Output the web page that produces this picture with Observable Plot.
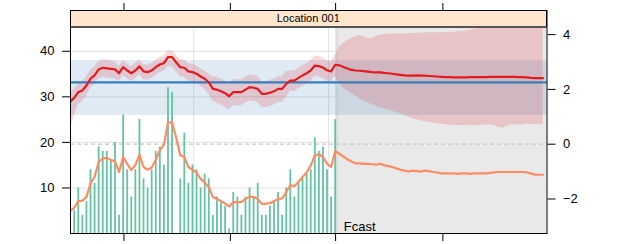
<!DOCTYPE html>
<html><head><meta charset="utf-8">
<script src="https://cdn.jsdelivr.net/npm/d3@7"></script>
<script src="https://cdn.jsdelivr.net/npm/@observablehq/plot@0.6"></script>
<style>
body{margin:0;background:#fff;}
#wrap{position:relative;width:625px;height:244px;font-family:"Liberation Sans",Arial,Helvetica,sans-serif;}
#wrap svg{position:absolute;left:0;top:0;}
#strip{position:absolute;left:70px;top:10px;width:476.5px;height:18px;box-sizing:border-box;background:#ffe5cc;border:1px solid #000;border-bottom:2px solid #555;font-size:11px;text-align:center;line-height:15px;color:#000;z-index:5;}
</style></head><body><div id="wrap"></div>
<script>
// ---- data ----
const panelTitle = "Location 001";
const fcastLabel = "Fcast";
const leftTicks = [10, 20, 30, 40];
const rightTicks = [-2, 0, 2, 4];
const xTicks = [12.2, 38.3, 64.1, 90.4];
const vGrid = [29.3, 62.4, 95.5];
const forecastStart = 64.4;

// daily counts (days 0..64)
const counts = [5,10,4,7,14,11,19,18,18,16, 20,4,26,14,8,14,25,12,10,14,
  18,19,15,32,31,0,12,22,11,15, 14,10,13,12,4,8,7,6,1,9,
  8,4,8,10,8,11,4,4,6,7, 9,4,10,14,8,11,12,13,14,21,
  18,19,14,8,25];

// line days -1..115
const lineDays = d3.range(-1, 116);
const orange = [5.0,5.6,7.1,7.2,8.0,11.0,12.4,15.7,16.5,16.6,
  16.1,15.9,13.5,16.8,15.3,13.9,15.0,17.3,14.6,14.0,
  14.5,16.2,18.3,19.4,24.4,24.4,21.0,17.2,16.8,14.6,
  14.0,13.3,12.0,11.2,10.2,8.0,7.6,7.1,6.6,5.9,
  6.9,6.9,6.9,7.6,8.1,8.0,7.6,6.5,6.5,6.7,
  7.1,7.6,7.7,9.1,10.6,10.4,11.3,12.4,13.4,14.9,
  17.1,17.4,16.8,15.3,14.6,18.1,17.5,16.9,16.3,15.8,
  15.4,15.4,15.3,15.3,15.2,15.1,15.3,15.0,14.8,14.6,
  14.3,14.0,13.8,13.6,13.8,13.7,13.6,13.8,13.7,13.5,
  13.4,13.2,13.2,13.2,13.2,13.1,13.2,13.2,13.1,13.2,
  13.2,13.2,13.2,13.3,13.4,13.5,13.5,13.5,13.5,13.5,
  13.5,13.5,13.4,13.2,12.9,12.9,12.9];
const red = [1.55,1.69,1.90,1.96,2.14,2.39,2.51,2.73,2.79,2.77,
  2.75,2.73,2.59,2.81,2.69,2.59,2.69,2.84,2.66,2.63,
  2.69,2.81,2.91,2.96,3.18,3.18,2.99,2.81,2.79,2.66,
  2.63,2.57,2.47,2.39,2.26,2.02,1.99,1.93,1.86,1.75,
  1.90,1.90,1.90,1.99,2.08,2.06,2.02,1.84,1.84,1.88,
  1.93,2.02,2.02,2.20,2.32,2.32,2.42,2.51,2.59,2.69,
  2.87,2.85,2.80,2.70,2.66,2.90,2.88,2.82,2.76,2.71,
  2.69,2.68,2.67,2.65,2.63,2.62,2.62,2.60,2.59,2.57,
  2.55,2.53,2.51,2.50,2.50,2.51,2.50,2.50,2.49,2.48,
  2.47,2.46,2.45,2.45,2.44,2.44,2.44,2.44,2.45,2.45,
  2.45,2.45,2.45,2.46,2.46,2.46,2.46,2.46,2.46,2.46,
  2.45,2.45,2.44,2.42,2.41,2.41,2.41];
const bandHi = [1.90,2.00,2.20,2.30,2.45,2.69,2.81,3.03,3.09,3.07,
  3.05,3.03,2.84,3.06,2.94,2.84,2.94,3.09,2.91,2.88,
  2.94,3.06,3.16,3.21,3.40,3.40,3.27,3.09,3.07,2.94,
  2.91,2.85,2.75,2.67,2.56,2.45,2.44,2.38,2.31,2.20,
  2.35,2.35,2.35,2.44,2.53,2.51,2.47,2.29,2.29,2.33,
  2.38,2.47,2.47,2.65,2.67,2.67,2.77,2.86,2.94,3.04,
  3.22,3.20,3.15,3.05,3.01,3.25,3.55,3.68,3.78,3.86,
  3.93,3.97,3.92,3.86,3.86,3.93,3.99,4.00,4.01,4.02,
  4.03,4.03,4.03,4.03,4.04,4.05,4.06,4.07,4.07,4.07,
  4.07,4.07,4.08,4.08,4.09,4.10,4.11,4.13,4.16,4.19,
  4.22,4.26,4.30,4.33,4.35,4.37,4.40,4.42,4.44,4.46,
  4.48,4.50,4.52,4.54,4.56,4.58,4.60];
const bandLo = [0.55,1.00,1.45,1.55,1.75,2.04,2.16,2.38,2.44,2.42,
  2.40,2.38,2.29,2.51,2.39,2.29,2.39,2.54,2.36,2.33,
  2.39,2.51,2.61,2.66,2.83,2.83,2.64,2.46,2.44,2.31,
  2.28,2.22,2.12,2.00,1.82,1.58,1.49,1.43,1.36,1.25,
  1.40,1.40,1.40,1.49,1.58,1.56,1.52,1.34,1.34,1.38,
  1.43,1.52,1.52,1.70,1.92,1.92,2.02,2.11,2.19,2.29,
  2.47,2.45,2.40,2.30,2.26,2.50,2.20,2.05,1.95,1.85,
  1.76,1.66,1.58,1.51,1.45,1.39,1.33,1.29,1.24,1.20,
  1.16,1.12,1.05,0.98,0.93,0.89,0.86,0.82,0.79,0.77,
  0.75,0.73,0.71,0.70,0.69,0.68,0.68,0.67,0.69,0.68,
  0.67,0.69,0.70,0.71,0.68,0.62,0.58,0.64,0.70,0.71,
  0.70,0.72,0.74,0.73,0.72,0.71,0.70];
const blueMean = 2.26;
const blueLo = 1.05;
const blueHi = 3.05;

// ---- tables ----
const barTable = counts.map((c, i) => ({day: i, count: c}));
const lineTable = lineDays.map((d, i) => ({day: d, orange: orange[i], red: red[i], lo: bandLo[i], hi: bandHi[i]}));

const xDomain = [-0.907, 115.94];
const leftDomain = [0, 48.95];
const rightDomain = [-3.26, 4.88];
const common = {
  width: 625, height: 244,
  marginLeft: 70, marginRight: 78.5, marginTop: 10, marginBottom: 11,
  style: {background: "transparent", font: "13px 'Liberation Sans', Arial, sans-serif", overflow: "visible"}
};

const wrap = document.getElementById("wrap");

// layer 1: background, grid, forecast shading, axes (left scale)
wrap.appendChild(Plot.plot({
  ...common,
  x: {domain: xDomain},
  y: {domain: leftDomain},
  marks: [
    Plot.gridY(leftTicks, {stroke: "#e2e2e2", strokeOpacity: 1}),
    Plot.gridX(vGrid, {stroke: "#e2e2e2", strokeOpacity: 1}),
    Plot.rect([{x1: forecastStart, x2: xDomain[1]}], {x1: "x1", x2: "x2", fill: "#e9e9e9"}),
    Plot.ruleX([forecastStart], {stroke: "#dfdfdf", strokeWidth: 3}),
    Plot.axisY({ticks: leftTicks, tickSize: 8, tickPadding: 8, label: null}),
    Plot.axisX({anchor: "top", ticks: xTicks, tickSize: 8, tickFormat: () => "", label: null}),
    Plot.axisX({anchor: "bottom", ticks: xTicks, tickSize: 8, tickFormat: () => "", label: null})
  ]
}));

// layer 2: bands, reference lines, red line (right scale)
wrap.appendChild(Plot.plot({
  ...common,
  x: {domain: xDomain, axis: null},
  y: {domain: rightDomain},
  marks: [
    Plot.rect([{lo: blueLo, hi: blueHi}], {y1: "lo", y2: "hi", fill: "#377EB8", fillOpacity: 0.16}),
    Plot.areaY(lineTable, {x: "day", y1: "lo", y2: "hi", fill: "#E41A1C", fillOpacity: 0.17, clip: true}),
    Plot.ruleY([0], {stroke: "#c8c8c8", strokeDasharray: "4,3", strokeWidth: 1.3}),
    Plot.ruleY([blueMean], {stroke: "#377EB8", strokeWidth: 2.2}),
    Plot.lineY(lineTable, {x: "day", y: "red", stroke: "#E41A1C", strokeWidth: 2.2, clip: true}),
    Plot.axisY({anchor: "right", ticks: rightTicks, tickSize: 8, tickPadding: 8, label: null})
  ]
}));

// layer 3: bars, orange line, label, frame (left scale)
wrap.appendChild(Plot.plot({
  ...common,
  x: {domain: xDomain, axis: null},
  y: {domain: leftDomain, axis: null},
  marks: [
    Plot.ruleX(barTable, {x: "day", y1: () => 0, y2: "count", stroke: "#66C2A5", strokeWidth: 1.8}),
    Plot.lineY(lineTable, {x: "day", y: "orange", stroke: "#FC8D62", strokeWidth: 2.2, clip: true}),
    Plot.text([fcastLabel], {x: () => forecastStart, y: () => 0, text: d => d, textAnchor: "start", lineAnchor: "bottom", dx: 7, dy: -3, fontSize: 13, fill: "#000"}),
    Plot.frame({stroke: "#000"})
  ]
}));

const strip = document.createElement("div");
strip.id = "strip";
strip.textContent = panelTitle;
wrap.appendChild(strip);
</script></body></html>
